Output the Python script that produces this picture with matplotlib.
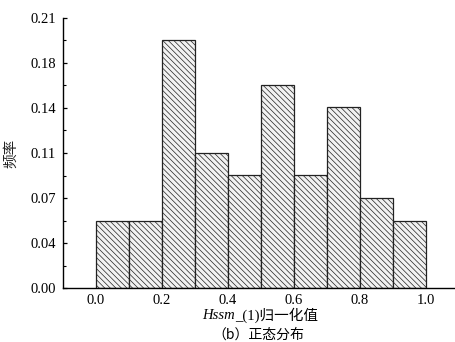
import matplotlib
matplotlib.use("Agg")
import matplotlib.pyplot as plt
import numpy as np

plt.rcParams['font.family'] = ['Liberation Serif', 'Noto Sans CJK SC']
plt.rcParams['hatch.color'] = '#6a6a6a'
plt.rcParams['hatch.linewidth'] = 0.5

bin_left = [0.0, 0.1, 0.2, 0.3, 0.4, 0.5, 0.6, 0.7, 0.8, 0.9]
freq = [0.0526, 0.0526, 0.1930, 0.1053, 0.0877, 0.1579, 0.0877, 0.1404, 0.0702, 0.0526]
yticks = [0.0, 0.035, 0.07, 0.105, 0.14, 0.175, 0.21]
ytick_labels = ['0.00', '0.04', '0.07', '0.11', '0.14', '0.18', '0.21']
xticks = [0.0, 0.2, 0.4, 0.6, 0.8, 1.0]
xtick_labels = ['0.0', '0.2', '0.4', '0.6', '0.8', '1.0']

fig = plt.figure(figsize=(4.55, 3.42), dpi=100)
ax = fig.add_axes([0.1378, 0.157, 0.8622, 0.7912])

ax.bar(bin_left, freq, width=0.1, align='edge', color='#f2f2f2',
       edgecolor='#222222', linewidth=0.9, hatch='\\' * 6, zorder=2)

ax.set_xlim(-0.101, 1.088)
ax.set_ylim(0, 0.21)
ax.set_yticks(yticks)
ax.set_yticklabels(ytick_labels)
ax.set_yticks([0.0175 + 0.035 * i for i in range(6)], minor=True)
ax.set_xticks(xticks)
ax.set_xticklabels(xtick_labels)

for s in ['top', 'right']:
    ax.spines[s].set_visible(False)
for s in ['left', 'bottom']:
    ax.spines[s].set_linewidth(1.0)

ax.tick_params(axis='y', which='major', direction='in', length=3, width=0.9,
               labelsize=10.5, pad=5)
ax.tick_params(axis='y', which='minor', direction='in', length=2, width=0.8)
ax.tick_params(axis='x', which='major', direction='in', length=0,
               labelsize=10.5, pad=4)

ax.set_ylabel('频率', fontsize=10.5, family=['Noto Sans CJK SC'], color='#222222')
ax.yaxis.set_label_coords(-0.114, 0.5)

# x label: italic "Hssm" followed by regular "_(1)归一化值", centred at x≈260px
fig.canvas.draw()
renderer = fig.canvas.get_renderer()
t1 = fig.text(0, 0.078, 'Hssm', ha='left', va='center', fontsize=10.5,
              fontstyle='italic', family=['Liberation Serif'])
t2 = fig.text(0, 0.078, '_(1)归一化值', ha='left', va='center', fontsize=10.5,
              family=['Liberation Serif', 'Noto Sans CJK SC'])
w1 = t1.get_window_extent(renderer).width
w2 = t2.get_window_extent(renderer).width
W = fig.bbox.width
x0 = 260 - (w1 + w2) / 2
t1.set_x(x0 / W)
t2.set_x((x0 + w1) / W)

fig.text(0.567, 0.022, '（b）正态分布', ha='center', va='center', fontsize=10,
         family=['Noto Sans CJK SC'])

fig.savefig('out.png', dpi=100)
